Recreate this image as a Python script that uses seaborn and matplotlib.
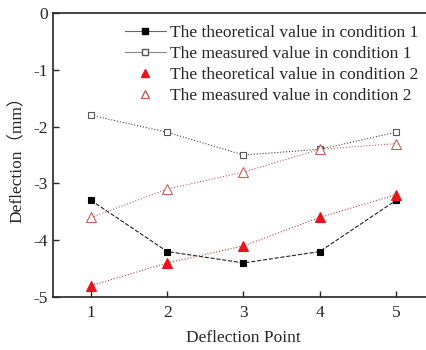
import pandas as pd
import seaborn as sns
import matplotlib.pyplot as plt
from matplotlib.lines import Line2D

points = [1, 2, 3, 4, 5]
theo_1 = [-3.3, -4.2, -4.4, -4.2, -3.3]
meas_1 = [-1.8, -2.1, -2.5, -2.4, -2.1]
theo_2 = [-4.8, -4.4, -4.1, -3.6, -3.2]
meas_2 = [-3.6, -3.1, -2.8, -2.4, -2.3]
labels = ["The theoretical value in condition 1",
          "The measured value in condition 1",
          "The theoretical value in condition 2",
          "The measured value in condition 2"]

sns.set_style("ticks")
plt.rcParams['font.family'] = ['Liberation Serif', 'Noto Sans CJK SC']

fig = plt.figure(figsize=(4.27, 3.5), dpi=100)
ax = fig.add_axes([53 / 427, 53 / 350, 381 / 427, 284 / 350])

red = "#e8141c"
series = [
    (theo_1, dict(color="#222222", ls="--", lw=0.8, marker="s", ms=5, mfc="black", mec="black")),
    (meas_1, dict(color="#444444", ls=":", lw=0.8, marker="s", ms=5, mfc="white", mec="#555555")),
    (theo_2, dict(color="#c04040", ls=":", lw=0.8, marker="^", ms=6.5, mfc=red, mec=red)),
    (meas_2, dict(color="#c06060", ls=":", lw=0.8, marker="^", ms=6.5, mfc="white", mec="#c06060")),
]
for vals, kw in series:
    df = pd.DataFrame({"point": points, "defl": vals})
    sns.lineplot(data=df, x="point", y="defl", ax=ax, markeredgewidth=0.8, **kw)

handles = [
    Line2D([], [], color="#666666", lw=0.8, marker="s", ms=4.5, mfc="black", mec="black"),
    Line2D([], [], color="#888888", lw=0.8, marker="s", ms=4.5, mfc="white", mec="#555555"),
    Line2D([], [], ls="none", marker="^", ms=5.5, mfc=red, mec=red),
    Line2D([], [], ls="none", marker="^", ms=5.5, mfc="white", mec="#c06060"),
]
ax.legend(handles, labels, loc="upper right", frameon=False, fontsize=12.5,
          handlelength=2.4, handletextpad=0.2, labelspacing=0.28,
          bbox_to_anchor=(0.99, 1.0), borderaxespad=0.3)

ax.set_xlim(0.5, 5.5)
ax.set_ylim(-5, 0)
ax.set_xticks(points)
ax.set_yticks([0, -1, -2, -3, -4, -5])
ax.set_yticklabels(["0", "-1", "-2", "-3", "-4", "-5"])
ax.tick_params(direction="in", labelsize=12.5, length=4, width=1)
ax.tick_params(axis="x", pad=6)
for s in ax.spines.values():
    s.set_linewidth(1.2)
ax.set_xlabel("Deflection Point", fontsize=12.5, labelpad=6)
ax.set_ylabel("Deflection（mm）", fontsize=12.5, labelpad=6)

fig.savefig("out.png", dpi=100)
